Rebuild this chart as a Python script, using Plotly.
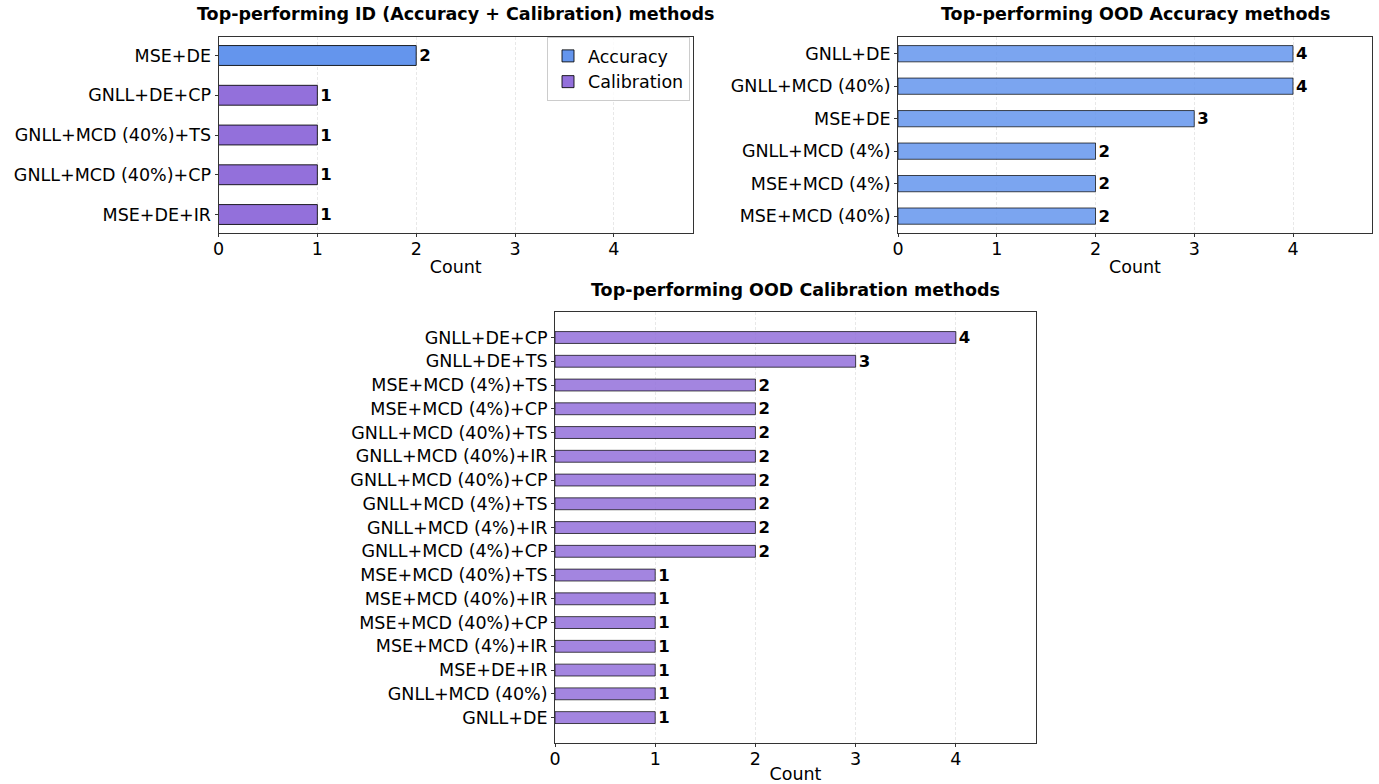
import plotly.graph_objects as go

# ---- data ----
id_acc_methods = ["MSE+DE"]
id_acc_counts = [2]
id_cal_methods = ["GNLL+DE+CP", "GNLL+MCD (40%)+TS", "GNLL+MCD (40%)+CP", "MSE+DE+IR"]
id_cal_counts = [1, 1, 1, 1]

ood_acc_methods = ["GNLL+DE", "GNLL+MCD (40%)", "MSE+DE", "GNLL+MCD (4%)", "MSE+MCD (4%)", "MSE+MCD (40%)"]
ood_acc_counts = [4, 4, 3, 2, 2, 2]

ood_cal_methods = ["GNLL+DE+CP", "GNLL+DE+TS", "MSE+MCD (4%)+TS", "MSE+MCD (4%)+CP",
                   "GNLL+MCD (40%)+TS", "GNLL+MCD (40%)+IR", "GNLL+MCD (40%)+CP",
                   "GNLL+MCD (4%)+TS", "GNLL+MCD (4%)+IR", "GNLL+MCD (4%)+CP",
                   "MSE+MCD (40%)+TS", "MSE+MCD (40%)+IR", "MSE+MCD (40%)+CP",
                   "MSE+MCD (4%)+IR", "MSE+DE+IR", "GNLL+MCD (40%)", "GNLL+DE"]
ood_cal_counts = [4, 3, 2, 2, 2, 2, 2, 2, 2, 2, 1, 1, 1, 1, 1, 1, 1]

titles = ["Top-performing ID (Accuracy + Calibration) methods",
          "Top-performing OOD Accuracy methods",
          "Top-performing OOD Calibration methods"]

BLUE = "#6495ED"
PURPLE = "#9370DB"
BLUE_A = "rgba(100,149,237,0.85)"
PURPLE_A = "rgba(147,112,219,0.85)"

W, H = 1379, 784
FONT = "DejaVu Sans"
FS = 17.5

def px_x(a, b):
    return [a / W, b / W]

def px_y(top, bottom):
    return [1 - bottom / H, 1 - top / H]

fig = go.Figure()

txtfont = dict(family=FONT, size=16.5, color="black", weight="bold")
common = dict(orientation="h", width=0.5, textposition="outside", textfont=txtfont,
              cliponaxis=False, constraintext="none", hoverinfo="x+y")

fig.add_trace(go.Bar(x=id_acc_counts, y=id_acc_methods, name="Accuracy",
                     marker=dict(color=BLUE, line=dict(color="rgba(0,0,0,0.85)", width=1)),
                     text=id_acc_counts, xaxis="x", yaxis="y", **common))
fig.add_trace(go.Bar(x=id_cal_counts, y=id_cal_methods, name="Calibration",
                     marker=dict(color=PURPLE, line=dict(color="rgba(0,0,0,0.85)", width=1)),
                     text=id_cal_counts, xaxis="x", yaxis="y", **common))
fig.add_trace(go.Bar(x=ood_acc_counts, y=ood_acc_methods, showlegend=False,
                     marker=dict(color=BLUE_A, line=dict(color="rgba(0,0,0,0.7)", width=1)),
                     text=ood_acc_counts, xaxis="x2", yaxis="y2", **common))
fig.add_trace(go.Bar(x=ood_cal_counts, y=ood_cal_methods, showlegend=False,
                     marker=dict(color=PURPLE_A, line=dict(color="rgba(0,0,0,0.7)", width=1)),
                     text=ood_cal_counts, xaxis="x3", yaxis="y3", **common))

def xaxis(domain, anchor):
    return dict(domain=domain, anchor=anchor, range=[0, 4.8], tickvals=[0, 1, 2, 3, 4],
                automargin=False,
                showgrid=True, gridcolor="rgba(0,0,0,0.09)", griddash="3px,2px", gridwidth=1,
                showline=True, linecolor="#333333", linewidth=1, mirror=True,
                ticks="outside", ticklen=3, tickcolor="#333333", zeroline=False,
                ticklabelstandoff=-3,
                tickfont=dict(family=FONT, size=FS, color="black"),
                title=dict(text="Count", font=dict(family=FONT, size=FS, color="black"), standoff=2))

def yaxis(domain, anchor, cats, rng):
    return dict(domain=domain, anchor=anchor, type="category", categoryorder="array",
                categoryarray=cats, range=rng, showgrid=False, automargin=False,
                showline=True, linecolor="#333333", linewidth=1, mirror=True,
                ticks="outside", ticklen=3, tickcolor="#333333",
                tickfont=dict(family=FONT, size=FS, color="black"))

id_all = id_acc_methods + id_cal_methods

fig.update_layout(
    width=W, height=H, margin=dict(l=0, r=0, t=0, b=0, autoexpand=False),
    paper_bgcolor="white", plot_bgcolor="white", barmode="overlay",
    font=dict(family=FONT, size=FS, color="black"),
    xaxis=xaxis(px_x(218.5, 693), "y"),
    yaxis=yaxis(px_y(36.5, 233), "x", id_all, [len(id_all) - 1 + 0.465, -0.478]),
    xaxis2=xaxis(px_x(898, 1372), "y2"),
    yaxis2=yaxis(px_y(36.5, 233), "x2", ood_acc_methods, [len(ood_acc_methods) - 1 + 0.52, -0.53]),
    xaxis3=xaxis(px_x(555, 1036), "y3"),
    yaxis3=yaxis(px_y(311.5, 743), "x3", ood_cal_methods, [len(ood_cal_methods) - 1 + 1.07, -1.095]),
    legend=dict(x=690 / W, y=1 - 37 / H, xanchor="right", yanchor="top",
                bgcolor="rgba(255,255,255,0.8)", bordercolor="#cccccc", borderwidth=1,
                font=dict(family=FONT, size=FS, color="black"), tracegroupgap=0),
)

centers = [((218 + 693) / 2, 14), ((898 + 1372) / 2, 14), ((555 + 1036) / 2, 290)]
for t, (cx, cy) in zip(titles, centers):
    fig.add_annotation(text=f"<b>{t}</b>", x=cx / W, y=1 - cy / H, xref="paper", yref="paper",
                       showarrow=False, xanchor="center", yanchor="middle",
                       font=dict(family=FONT, size=FS, color="black"))

fig.write_html("out.html", config={"displayModeBar": False},
               post_script="document.body.style.margin='0';document.body.style.overflow='hidden';")
